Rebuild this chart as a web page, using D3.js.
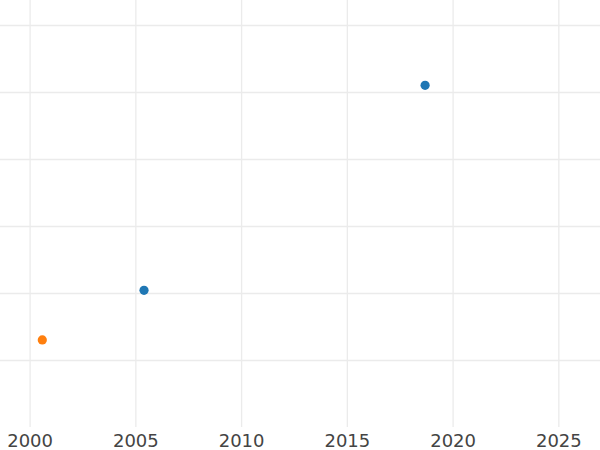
<!DOCTYPE html>
<html>
<head>
<meta charset="utf-8">
<script src="https://cdn.jsdelivr.net/npm/d3@7"></script>
<style>
  html, body { margin: 0; padding: 0; background: #fff; }
  svg { display: block; }
</style>
</head>
<body>
<svg id="chart" width="600" height="450"></svg>
<script>
// Data
const seriesBlueYears = [2005.41, 2018.70];
const seriesBlueValues = [2.04, 5.10];
const seriesOrangeYears = [2000.6];
const seriesOrangeValues = [1.30];
const xTickValues = [2000, 2005, 2010, 2015, 2020, 2025];
const yTickValues = [1, 2, 3, 4, 5, 6];

const W = 600, H = 450;
const plotBottom = 427;
const svg = d3.select("#chart");

const x = d3.scaleLinear().domain([1998.6, 2026.97]).range([0, W]);
const y = d3.scaleLinear().domain([0, 6.373]).range([plotBottom, 0]);

// Horizontal gridlines
svg.append("g")
  .attr("transform", "translate(0,0)")
  .call(d3.axisLeft(y).tickValues(yTickValues).tickSize(-W).tickFormat(""))
  .call(g => g.select(".domain").remove())
  .call(g => g.selectAll(".tick line").attr("stroke", "#ebebeb").attr("stroke-width", 1.3));

// Vertical gridlines
svg.append("g")
  .attr("transform", `translate(0,${plotBottom})`)
  .call(d3.axisBottom(x).tickValues(xTickValues).tickSize(-plotBottom).tickFormat(""))
  .call(g => g.select(".domain").remove())
  .call(g => g.selectAll(".tick line").attr("stroke", "#ebebeb").attr("stroke-width", 1.3));

// X axis labels
svg.append("g")
  .attr("transform", `translate(0,${plotBottom})`)
  .call(d3.axisBottom(x).tickValues(xTickValues).tickSize(0).tickPadding(0).tickFormat(d3.format("d")))
  .call(g => g.select(".domain").remove())
  .call(g => g.selectAll(".tick text")
    .attr("y", 20)
    .attr("dy", 0)
    .attr("fill", "#444")
    .attr("font-family", "DejaVu Sans, sans-serif")
    .attr("font-size", 18));

// Points
const orange = seriesOrangeYears.map((d, i) => ({x: d, y: seriesOrangeValues[i]}));
const blue = seriesBlueYears.map((d, i) => ({x: d, y: seriesBlueValues[i]}));

svg.append("g").selectAll("circle").data(orange).join("circle")
  .attr("cx", d => x(d.x)).attr("cy", d => y(d.y)).attr("r", 4.6)
  .attr("fill", "#ff7f0e");

svg.append("g").selectAll("circle").data(blue).join("circle")
  .attr("cx", d => x(d.x)).attr("cy", d => y(d.y)).attr("r", 4.6)
  .attr("fill", "#1f77b4");
</script>
</body>
</html>
